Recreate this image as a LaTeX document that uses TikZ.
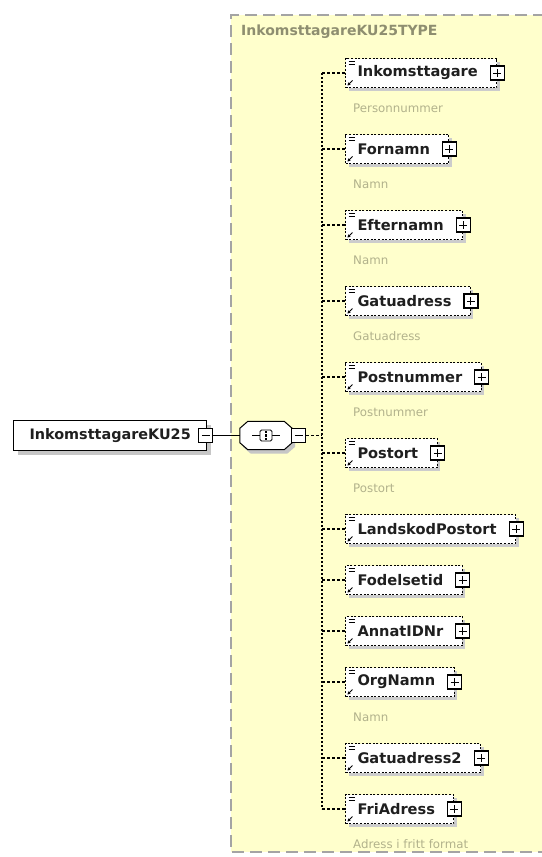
\documentclass[tikz,border=0pt]{standalone}
\usepackage{fontspec}
\setmainfont{DejaVu Sans}
\usepackage{tikz}
\usetikzlibrary{shapes.misc, arrows.meta, positioning, shadows}
\definecolor{panelfill}{HTML}{FFFFCC}
\definecolor{paneledge}{HTML}{A4A4A4}
\definecolor{typetext}{HTML}{B2B28C}
\definecolor{titletext}{HTML}{8E8E70}
\newcommand{\elname}[1]{#1\kern7pt}

\begin{document}
\begin{tikzpicture}[
    x=1pt, y=1pt,
    %% -- Node styles ------------------------------------------------------
    %%
    %% rootbox: the global element on the left, solid frame with shadow.
    rootbox/.style={
        draw,
        line width=1pt,
        fill=white,
        anchor=west,
        minimum height=30pt,
        inner xsep=16pt,
        inner ysep=0pt,
        font=\fontsize{14.4}{17}\selectfont\bfseries,
        text=black!88,
        drop shadow={shadow xshift=4pt, shadow yshift=-4pt, fill=gray!45, opacity=1},
    },
    %% elem: child element (reference), dashed frame, corner marks.
    %%   Use \elname{NAME} as content to leave room for the plus box.
    elem/.style={
        draw,
        dash pattern=on 2pt off 1.6pt,
        line width=1pt,
        fill=white,
        anchor=west,
        minimum height=29pt,
        inner xsep=12pt,
        inner ysep=0pt,
        font=\fontsize{14.6}{17}\selectfont\bfseries,
        text=black!88,
        drop shadow={shadow xshift=3pt, shadow yshift=-3.5pt, fill=gray!40, opacity=1},
        path picture={
            \draw[solid, black, line width=0.8pt]
                ([shift={(3pt,-3pt)}]path picture bounding box.north west) -- ++(6pt,0pt)
                ([shift={(3pt,-5.5pt)}]path picture bounding box.north west) -- ++(6pt,0pt);
            \draw[solid, black, line width=0.9pt, {Stealth[length=3pt,width=3.5pt,fill=black]}-]
                ([shift={(2pt,2pt)}]path picture bounding box.south west) -- ++(5pt,5pt);
        },
    },
    %% seqbox: area of the sequence compositor; seqframe draws the octagon.
    seqbox/.style={
        rectangle,
        minimum width=52pt,
        minimum height=28pt,
        inner sep=0pt,
    },
    seqframe/.style={
        draw,
        line width=1pt,
        fill=white,
        drop shadow={shadow xshift=3pt, shadow yshift=-4pt, fill=gray!45, opacity=1},
    },
    seqmark/.style={line width=0.9pt},
    %% plus / minus buttons
    sqbox/.style={draw, line width=1.2pt, fill=white, minimum size=14pt, inner sep=0pt},
    plusbox/.style={sqbox,
        path picture={
            \draw[line width=1pt] ([xshift=3pt]path picture bounding box.west) -- ([xshift=-3pt]path picture bounding box.east);
            \draw[line width=1pt] ([yshift=-3pt]path picture bounding box.north) -- ([yshift=3pt]path picture bounding box.south);
        }},
    minusbox/.style={sqbox,
        path picture={
            \draw[line width=1pt] ([xshift=3pt]path picture bounding box.west) -- ([xshift=-3pt]path picture bounding box.east);
        }},
    %% labels
    typelabel/.style={inner sep=0pt, text height=9pt, text depth=2pt,
        font=\fontsize{11.8}{13}\selectfont, text=typetext},
    titlelabel/.style={anchor=west, inner sep=0pt,
        font=\fontsize{14}{16}\selectfont\bfseries, text=titletext},
    %% -- Edge styles -------------------------------------------------------
    branch/.style={dash pattern=on 3pt off 2pt, line width=1.1pt},
    busline/.style={dash pattern=on 2pt off 2pt, line width=1.3pt},
]

\useasboundingbox (0,0) rectangle (541,-857);

%% -- Type panel -----------------------------------------------------------

\fill[panelfill] (231,-15) rectangle (545,-852);
\draw[paneledge, line width=1.2pt, dash pattern=on 12pt off 6pt]
    (545,-15) -- (231,-15) -- (231,-852) -- (545,-852);
\node[titlelabel] (typename) at (241,-32) {InkomsttagareKU25TYPE};

%% -- Place nodes here -----------------------------------------------------

\node[rootbox] (root) at (13,-435.5) {InkomsttagareKU25};
\node[minusbox] (root_pm) at ([xshift=-1.5pt]root.east) {};

\node[seqbox] (seq) at (266,-435.5) {};
\draw[seqframe]
    ([xshift=8pt]seq.north west) -- ([xshift=-8pt]seq.north east) --
    ([yshift=-7pt]seq.north east) -- ([yshift=7pt]seq.south east) --
    ([xshift=-8pt]seq.south east) -- ([xshift=8pt]seq.south west) --
    ([yshift=7pt]seq.south west) -- ([yshift=-7pt]seq.north west) -- cycle;
\draw[seqmark] ([xshift=-14pt]seq.center) -- ([xshift=14pt]seq.center);
\draw[seqmark, fill=white, rounded corners=1.5pt]
    ([shift={(-6pt,-5.5pt)}]seq.center) rectangle ([shift={(6pt,5.5pt)}]seq.center);
\fill ([shift={(-1.3pt,2.2pt)}]seq.center) rectangle ([shift={(1.3pt,4.8pt)}]seq.center);
\fill ([shift={(-1.3pt,-1.3pt)}]seq.center) rectangle ([shift={(1.3pt,1.3pt)}]seq.center);
\fill ([shift={(-1.3pt,-4.8pt)}]seq.center) rectangle ([shift={(1.3pt,-2.2pt)}]seq.center);
\node[minusbox, anchor=west] (seq_pm) at ([xshift=-1pt]seq.east) {};
\coordinate (bus) at (322,-435.5);

\node[elem] (inkomsttagare) at (345,-73) {\elname{Inkomsttagare}};
\node[elem, below=46pt of inkomsttagare.south west, anchor=north west] (fornamn) {\elname{Fornamn}};
\node[elem, below=46pt of fornamn.south west, anchor=north west] (efternamn) {\elname{Efternamn}};
\node[elem, below=46pt of efternamn.south west, anchor=north west] (gatuadress) {\elname{Gatuadress}};
\node[elem, below=46pt of gatuadress.south west, anchor=north west] (postnummer) {\elname{Postnummer}};
\node[elem, below=46pt of postnummer.south west, anchor=north west] (postort) {\elname{Postort}};
\node[elem, below=46pt of postort.south west, anchor=north west] (landskodpostort) {\elname{LandskodPostort}};
\node[elem, below=21pt of landskodpostort.south west, anchor=north west] (fodelsetid) {\elname{Fodelsetid}};
\node[elem, below=21pt of fodelsetid.south west, anchor=north west] (annatidnr) {\elname{AnnatIDNr}};
\node[elem, below=21pt of annatidnr.south west, anchor=north west] (orgnamn) {\elname{OrgNamn}};
\node[elem, below=46pt of orgnamn.south west, anchor=north west] (gatuadress2) {\elname{Gatuadress2}};
\node[elem, below=21pt of gatuadress2.south west, anchor=north west] (friadress) {\elname{FriAdress}};

%% plus buttons
\node[plusbox] (inkomsttagare_pm) at (inkomsttagare.east) {};
\node[plusbox] (fornamn_pm) at (fornamn.east) {};
\node[plusbox] (efternamn_pm) at (efternamn.east) {};
\node[plusbox] (gatuadress_pm) at (gatuadress.east) {};
\node[plusbox] (postnummer_pm) at (postnummer.east) {};
\node[plusbox] (postort_pm) at (postort.east) {};
\node[plusbox] (landskodpostort_pm) at (landskodpostort.east) {};
\node[plusbox] (fodelsetid_pm) at (fodelsetid.east) {};
\node[plusbox] (annatidnr_pm) at (annatidnr.east) {};
\node[plusbox] (orgnamn_pm) at (orgnamn.east) {};
\node[plusbox] (gatuadress2_pm) at (gatuadress2.east) {};
\node[plusbox] (friadress_pm) at (friadress.east) {};

%% type names
\node[typelabel, below right=15pt and 8pt of inkomsttagare.south west] (inkomsttagare_type) {Personnummer};
\node[typelabel, below right=15pt and 8pt of fornamn.south west] (fornamn_type) {Namn};
\node[typelabel, below right=15pt and 8pt of efternamn.south west] (efternamn_type) {Namn};
\node[typelabel, below right=15pt and 8pt of gatuadress.south west] (gatuadress_type) {Gatuadress};
\node[typelabel, below right=15pt and 8pt of postnummer.south west] (postnummer_type) {Postnummer};
\node[typelabel, below right=15pt and 8pt of postort.south west] (postort_type) {Postort};
\node[typelabel, below right=15pt and 8pt of orgnamn.south west] (orgnamn_type) {Namn};
\node[typelabel, below right=15pt and 8pt of friadress.south west] (friadress_type) {Adress i fritt format};

%% -- Draw edges here ------------------------------------------------------

\draw[line width=1pt] (root_pm) -- (seq);
\draw[branch] (seq_pm) -- (bus);
\draw[busline] (bus |- inkomsttagare.west) -- (bus |- friadress.west);

\draw[branch] (bus |- inkomsttagare.west) -- (inkomsttagare);
\draw[branch] (bus |- fornamn.west) -- (fornamn);
\draw[branch] (bus |- efternamn.west) -- (efternamn);
\draw[branch] (bus |- gatuadress.west) -- (gatuadress);
\draw[branch] (bus |- postnummer.west) -- (postnummer);
\draw[branch] (bus |- postort.west) -- (postort);
\draw[branch] (bus |- landskodpostort.west) -- (landskodpostort);
\draw[branch] (bus |- fodelsetid.west) -- (fodelsetid);
\draw[branch] (bus |- annatidnr.west) -- (annatidnr);
\draw[branch] (bus |- orgnamn.west) -- (orgnamn);
\draw[branch] (bus |- gatuadress2.west) -- (gatuadress2);
\draw[branch] (bus |- friadress.west) -- (friadress);

\end{tikzpicture}
\end{document}
